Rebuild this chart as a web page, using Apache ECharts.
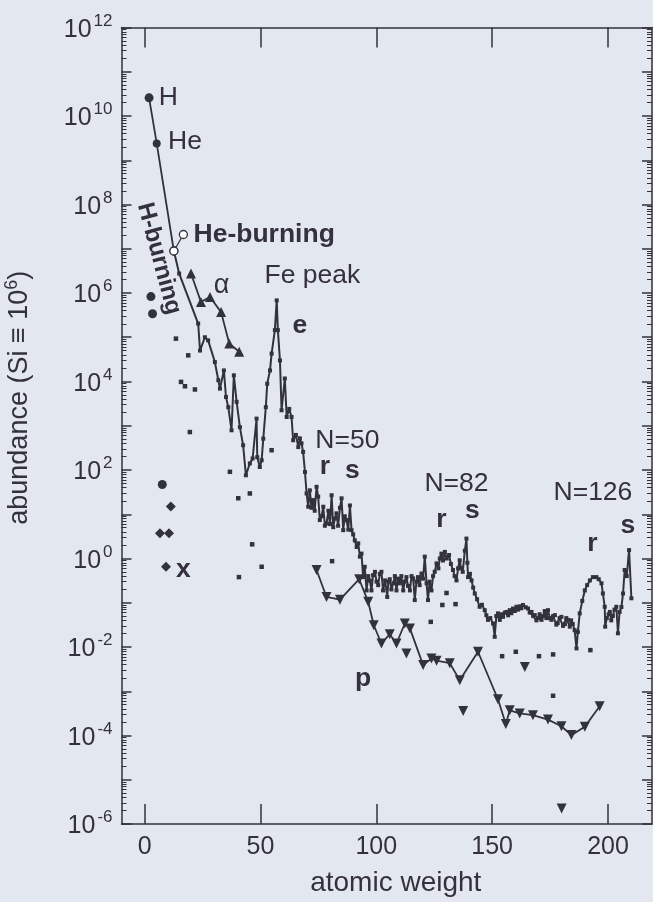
<!DOCTYPE html>
<html><head><meta charset="utf-8">
<script src="https://cdn.jsdelivr.net/npm/echarts@6/dist/echarts.min.js"></script>
<style>html,body{margin:0;padding:0;background:#e3e8f0;}#c{width:653px;height:902px;}</style>
</head><body><div id="c"></div><script>
// ---------------- data (atomic weight, abundance with Si = 1e6) ----------------
const hBurning = [[1.9, 2.57e10], [5.2, 2.4e9], [12.6, 8.9e6]];
const heBurning = [[12.6, 8.9e6], [16.7, 2.1e7]];
const mainCurve = [
  [12.6, 8.9e6], [14.9, 2.75e6], [23.1, 2.04e5], [23.9, 5.0e4], [26.0, 1.0e5], [27.4, 8.5e4],
  [30.3, 2.75e4], [31.8, 1.07e4], [32.5, 6.9e3], [34.2, 1.78e4], [35.1, 4.47e3], [36.1, 2.63e3],
  [37.5, 790], [38.5, 1.38e4], [39.7, 3.47e3], [41.1, 930], [42.5, 363], [43.7, 76],
  [45.4, 141], [46.6, 182], [48.3, 1450], [48.6, 195], [49.7, 117], [50.5, 166], [51.2, 510],
  [52.3, 2630], [52.9, 8900], [54.1, 1.78e4], [54.8, 4.27e4], [56.2, 1.45e5], [57.0, 6.8e5],
  [57.5, 1.45e5], [58.4, 3.0e4], [59.1, 2240], [60.5, 1.17e4], [61.3, 1580], [62.4, 2400], [63.4, 1580],
  [64.1, 470], [65.3, 620], [66.3, 330], [67.0, 520], [67.7, 400], [68.4, 257], [69.2, 90], [69.9, 29.5], [70.6, 14.8],
  [71.3, 34.7], [72.0, 14], [72.7, 20.9], [73.4, 12], [74.2, 41.7], [74.9, 25], [75.6, 7.4], [76.4, 9], [77.1, 14.8],
  [77.8, 5.5], [78.5, 6.2], [79.3, 12], [80.0, 6], [80.7, 26.9], [81.4, 5.1], [82.1, 8], [82.8, 10.5], [83.5, 5.5],
  [84.3, 14], [85.0, 22.9], [85.7, 4.37], [86.4, 9], [87.1, 7.4], [87.9, 4.5], [88.6, 15.8], [89.3, 4.37],
  [90.0, 3.5], [90.7, 2.57], [91.5, 1.82], [92.2, 2.2], [92.9, 1.10], [93.6, 1.29], [94.3, 0.38], [95.0, 0.65],
  [95.8, 0.19], [96.5, 0.40], [97.2, 0.32], [97.9, 0.19], [98.6, 0.42], [99.4, 0.50], [100.1, 0.30],
  [100.8, 0.25], [101.5, 0.45], [102.2, 0.50], [102.9, 0.19], [103.8, 0.32], [104.7, 0.135], [105.2, 0.30],
  [105.8, 0.34], [106.5, 0.20], [107.3, 0.275], [108.0, 0.40], [108.7, 0.19], [109.4, 0.35], [110.1, 0.275],
  [110.8, 0.40], [111.6, 0.19], [112.3, 0.30], [113.0, 0.38], [113.7, 0.24], [114.5, 0.19], [115.2, 0.40],
  [115.9, 0.355], [116.6, 0.115], [117.3, 0.30], [118.0, 0.38], [118.7, 0.25], [119.5, 0.457], [120.2, 0.35],
  [120.9, 1.10], [121.7, 0.275], [122.3, 0.115], [123.0, 0.30], [123.8, 0.19], [124.5, 0.40], [125.2, 0.50],
  [126.0, 0.776], [126.8, 0.60], [127.4, 1.0], [128.1, 1.29], [128.8, 0.9], [129.6, 1.41], [130.4, 1.0],
  [131.4, 1.20], [132.2, 0.75], [133.1, 0.55], [133.8, 0.40], [134.6, 0.32], [135.3, 0.60], [136.0, 0.91],
  [136.6, 0.60], [137.3, 0.50], [138.2, 1.5], [138.9, 2.82], [139.3, 0.8], [139.6, 0.38], [140.4, 0.45],
  [141.1, 0.32], [141.8, 0.22], [142.5, 0.162], [143.5, 0.12], [144.6, 0.081], [145.6, 0.09], [146.8, 0.068],
  [147.5, 0.052], [148.2, 0.041], [149.2, 0.045], [150.4, 0.034], [151.1, 0.017], [151.8, 0.05], [152.5, 0.0575],
  [153.3, 0.041], [154.0, 0.055], [154.7, 0.048], [155.5, 0.06], [156.2, 0.062], [156.9, 0.052], [157.6, 0.068],
  [158.3, 0.058], [159.0, 0.074], [159.8, 0.065], [160.5, 0.081], [161.2, 0.07], [161.9, 0.083], [162.6, 0.075],
  [163.3, 0.089], [164.5, 0.079], [165.5, 0.074], [166.2, 0.06], [167.0, 0.062], [167.7, 0.05], [168.4, 0.0525],
  [169.1, 0.04], [169.8, 0.0447], [170.5, 0.055], [171.3, 0.041], [172.0, 0.05], [172.7, 0.065], [173.4, 0.045],
  [174.1, 0.068], [174.9, 0.0447], [175.6, 0.041], [176.3, 0.05], [177.1, 0.0525], [177.7, 0.032],
  [178.3, 0.0347], [179.1, 0.045], [179.9, 0.048], [180.6, 0.03], [181.4, 0.033], [182.0, 0.045], [182.7, 0.041],
  [183.5, 0.0288], [184.1, 0.04], [184.8, 0.033], [185.6, 0.024], [186.4, 0.0093], [187.0, 0.0219],
  [187.8, 0.0575], [188.9, 0.11], [190.0, 0.19], [191.0, 0.25], [192.2, 0.32], [193.5, 0.38], [195.0, 0.38],
  [196.0, 0.34], [197.2, 0.275], [197.8, 0.162], [198.6, 0.081], [198.8, 0.0288], [199.5, 0.045], [200.3, 0.055],
  [200.8, 0.062], [201.4, 0.04], [202.1, 0.050], [202.8, 0.07], [203.6, 0.081], [204.3, 0.0204], [205.0, 0.062],
  [205.8, 0.08], [206.5, 0.162], [207.2, 0.55], [208.1, 0.40], [209.1, 1.55], [210.1, 0.126]
];
const alphaNuclei = [[20.0, 2.75e6], [24.3, 6.3e5], [28.2, 8.1e5], [33.0, 3.7e5], [36.5, 7.2e4], [40.8, 4.7e4]];
const pLine = [
  [74.2, 0.55], [78.5, 0.135], [84.3, 0.117], [92.6, 0.34], [96.5, 0.105], [98.9, 0.031],
  [102.2, 0.012], [105.8, 0.0195], [108.7, 0.012], [112.3, 0.034], [114.5, 0.0263], [120.2, 0.0039],
  [123.8, 0.0055], [126.0, 0.0049], [131.7, 0.0043], [136.0, 0.00178], [143.9, 0.0078],
  [152.5, 0.00066], [155.9, 0.000182], [157.6, 0.00037], [161.9, 0.000316], [167.6, 0.000288],
  [174.1, 0.000229], [179.9, 0.000162], [184.2, 0.000102], [190.0, 0.000158], [196.4, 0.000457]
];
const pIsolated = [[113.0, 0.0071], [137.5, 0.00036], [164.1, 0.00355], [180.0, 2.24e-6]];
const otherDots = [
  [13.5, 9.3e4], [15.7, 9.8e3], [17.4, 7.8e3], [18.8, 3.9e4], [19.5, 720], [21.7, 6.6e3],
  [36.8, 91], [40.4, 23], [40.7, 0.38], [45.4, 29.5], [46.4, 2.09], [50.5, 0.65], [54.8, 280],
  [80.9, 0.87], [123.5, 0.037], [128.5, 0.089], [130.3, 0.166], [134.2, 0.093], [154.3, 0.0062],
  [160.2, 0.0078], [170.2, 0.0062], [176.3, 0.0068], [176.3, 0.00079], [192.4, 0.0085]
];
const lightBig = [[2.7, 8.3e5], [3.4, 3.4e5], [7.6, 47]];
const xDiamonds = [[6.6, 3.7], [10.5, 3.7], [11.3, 15], [9.2, 0.65]];

// tick values
const xTicks = [0, 50, 100, 150, 200];
const yMajorTicks = [1e-6,1e-5,1e-4,1e-3,1e-2,1e-1,1,1e1,1e2,1e3,1e4,1e5,1e6,1e7,1e8,1e9,1e10,1e11,1e12];
const yLabelTicks = [1e-6,1e-4,1e-2,1,1e2,1e4,1e6,1e8,1e10,1e12];

// annotations (text, anchor in data coords)
const annoText = ['H','He','He-burning','H-burning','\u03b1','Fe peak','e','N=50','r','s','N=82','r','s','N=126','r','s','p','x'];
const annoX    = [10.2, 17.4, 51.6, 6.2, 33.2, 72.4, 67.0, 87.5, 77.8, 89.7, 134.6, 128.1, 141.5, 193.5, 193.3, 208.6, 94.3, 16.7];
const annoY    = [2.57e10, 2.57e9, 2.09e7, 6.0e6, 1.48e6, 2.5e6, 1.86e5, 470, 120, 95, 48, 7.6, 12.3, 31, 2.19, 5.6, 1.95e-3, 0.56];

// ---------------- styling / option ----------------
const FONT = '"Liberation Sans", Arial, Helvetica, sans-serif';
const INK = '#32323d';
const TXT = '#34303d';
const boldSet = new Set([2, 3, 6, 8, 9, 11, 12, 14, 15, 16, 17]);

const minorTicks = [];
for (let e = -6; e < 12; e++) for (let m = 2; m <= 9; m++) minorTicks.push(m * Math.pow(10, e));

const axisLine = {show: true, onZero: false, lineStyle: {color: INK, width: 1.5}};
const noLine = {show: false, onZero: false};
const yBase = {type: 'log', logBase: 10, min: 1e-6, max: 1e12, splitLine: {show: false}, gridIndex: 0};

const annoData = annoText.map((t, i) => ({
  value: [annoX[i], annoY[i]],
  label: {
    show: true, position: 'inside', formatter: t,
    fontFamily: FONT, fontSize: i === 3 ? 24 : (t === '\u03b1' ? 27 : 26.5),
    fontWeight: boldSet.has(i) ? 'bold' : 'normal',
    color: TXT, textBorderWidth: 0, opacity: 1, rotate: i === 3 ? -75 : 0
  }
}));

const option = {
  backgroundColor: '#e3e8f0',
  animation: false,
  grid: {left: 121.5, right: 1, top: 27.5, bottom: 78, outerBoundsMode: 'none', containLabel: false},
  xAxis: [
    {type: 'value', min: -10, max: 219, position: 'bottom',
     axisLine, splitLine: {show: false},
     axisTick: {show: true, inside: true, length: 20, customValues: xTicks, lineStyle: {color: INK, width: 1.5}},
     axisLabel: {show: true, customValues: xTicks, margin: 11, fontFamily: FONT, fontSize: 25, color: TXT},
     name: 'atomic weight', nameLocation: 'middle', nameGap: 45,
     nameTextStyle: {fontFamily: FONT, fontSize: 28, color: TXT, padding: [0, 0, 0, 18]}},
    {type: 'value', min: -10, max: 219, position: 'top',
     axisLine, splitLine: {show: false},
     axisTick: {show: true, inside: true, length: 20, customValues: xTicks, lineStyle: {color: INK, width: 1.5}},
     axisLabel: {show: false}}
  ],
  yAxis: [
    Object.assign({}, yBase, {position: 'left', axisLine,
      axisTick: {show: true, inside: true, length: 10, customValues: yMajorTicks, lineStyle: {color: INK, width: 1.5}},
      axisLabel: {show: true, customValues: yLabelTicks, margin: 9,
        formatter: v => '{b|10}{s|' + Math.round(Math.log10(v)) + '}',
        rich: {b: {fontFamily: FONT, fontSize: 25, color: TXT, verticalAlign: 'bottom'},
               s: {fontFamily: FONT, fontSize: 17, color: TXT, verticalAlign: 'bottom', padding: [0, 0, 13, 2]}}},
      name: 'abundance (Si \u2261 10{s|6})', nameLocation: 'middle', nameGap: 86,
      nameTextStyle: {fontFamily: FONT, fontSize: 27, color: TXT, padding: [0, 0, 0, 56],
        rich: {s: {fontFamily: FONT, fontSize: 18, color: TXT, verticalAlign: 'bottom', padding: [0, 0, 14, 0]}}}}),
    Object.assign({}, yBase, {position: 'right', axisLine,
      axisTick: {show: true, inside: true, length: 10, customValues: yMajorTicks, lineStyle: {color: INK, width: 1.5}},
      axisLabel: {show: false}}),
    Object.assign({}, yBase, {position: 'left', axisLine: noLine,
      axisTick: {show: true, inside: true, length: 5, customValues: minorTicks, lineStyle: {color: INK, width: 1}},
      axisLabel: {show: false}}),
    Object.assign({}, yBase, {position: 'right', axisLine: noLine,
      axisTick: {show: true, inside: true, length: 5, customValues: minorTicks, lineStyle: {color: INK, width: 1}},
      axisLabel: {show: false}})
  ],
  series: [
    {name: 'main', type: 'line', data: mainCurve, symbol: 'rect', symbolSize: 4,
     lineStyle: {color: INK, width: 2}, itemStyle: {color: INK}, z: 3},
    {name: 'H-burning', type: 'line', data: hBurning.map((d, i) => ({
        value: d, symbolSize: i === 0 ? 9 : 8,
        itemStyle: i === 2 ? {color: '#ffffff', borderColor: INK, borderWidth: 1.3} : {color: INK}})),
     symbol: 'circle', lineStyle: {color: INK, width: 1.8}, z: 4},
    {name: 'He-burning', type: 'line', data: heBurning, symbol: 'circle', symbolSize: 8,
     lineStyle: {color: INK, width: 1.3}, itemStyle: {color: '#ffffff', borderColor: INK, borderWidth: 1.3}, z: 5},
    {name: 'alpha', type: 'line', data: alphaNuclei, symbol: 'triangle', symbolSize: 10,
     lineStyle: {color: INK, width: 1.8}, itemStyle: {color: INK}, z: 4},
    {name: 'p', type: 'line', data: pLine, symbol: 'triangle', symbolRotate: 180, symbolSize: 10,
     lineStyle: {color: INK, width: 1.8}, itemStyle: {color: INK}, z: 4},
    {name: 'p isolated', type: 'scatter', data: pIsolated, symbol: 'triangle', symbolRotate: 180, symbolSize: 10,
     itemStyle: {color: INK, opacity: 1}},
    {name: 'other', type: 'scatter', data: otherDots, symbol: 'rect', symbolSize: 4.5, itemStyle: {color: INK, opacity: 1}},
    {name: 'light', type: 'scatter', data: lightBig, symbol: 'circle', symbolSize: 9, itemStyle: {color: INK, opacity: 1}},
    {name: 'x', type: 'scatter', data: xDiamonds, symbol: 'diamond', symbolSize: 10, itemStyle: {color: INK, opacity: 1}},
    {name: 'labels', type: 'scatter', data: annoData, symbolSize: 0, silent: true, z: 10, itemStyle: {opacity: 1}}
  ]
};
const chart = echarts.init(document.getElementById('c'), null, {renderer: 'canvas'});
chart.setOption(option);
</script></body></html>
